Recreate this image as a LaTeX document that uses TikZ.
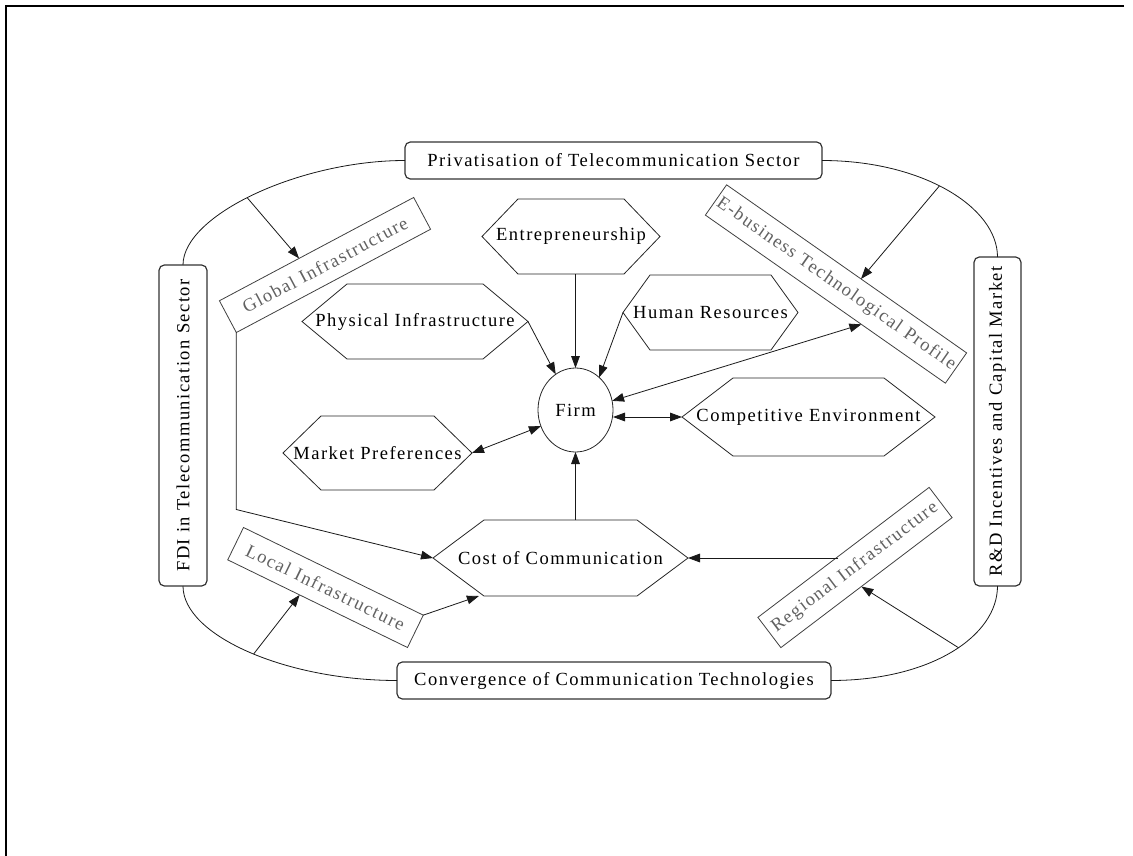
\documentclass[tikz,border=0pt]{standalone}
\usepackage{fontspec}
\setmainfont{Liberation Serif}[LetterSpace=8,Ligatures=NoCommon]
\usetikzlibrary{arrows.meta,calc,shapes.geometric}
\newcommand\hexdraw[2]{\draw[hexline] (#1.west) -- ([shift={(#2,0)}]#1.north west) -- ([shift={(-#2,0)}]#1.north east) -- (#1.east) -- ([shift={(-#2,0)}]#1.south east) -- ([shift={(#2,0)}]#1.south west) -- cycle;}
\begin{document}
\begin{tikzpicture}[x=0.75pt,y=-0.75pt,
  font=\fontsize{13.9}{16}\selectfont,
  every node/.style={inner sep=0pt, outer sep=0pt},
  rbox/.style={draw=black!80, line width=0.9pt, rounded corners=4pt},
  tbox/.style={draw=black!75, line width=0.6pt, text=black!62},
  hexnode/.style={},
  hexline/.style={draw=black!85, line width=0.6pt},
  conn/.style={draw=black!90, line width=0.6pt},
  arr/.style={conn, -{Triangle[length=9pt,width=6.5pt]}},
  darr/.style={conn, {Triangle[length=9pt,width=6.5pt]}-{Triangle[length=9pt,width=6.5pt]}}]
\useasboundingbox (0,0) rectangle (1133,856);
\draw[line width=1.5pt] (1124,6) -- (6,6) -- (6,856);

% outer boxes
\node[rbox, minimum width=312.75pt, minimum height=27.75pt] (priv) at (613.5,160.5) {Privatisation of Telecommunication Sector};
\node[rbox, minimum width=325.5pt, minimum height=27.75pt] (conv) at (614,680.5) {Convergence of Communication Technologies};
\node[rbox, minimum width=36pt, minimum height=240.75pt] (fdi) at (183,425.5) {\rotatebox{90}{FDI in Telecommunication Sector}};
\node[rbox, minimum width=35.25pt, minimum height=246.75pt] (rd) at (997.5,421.5) {\rotatebox{90}{R\&D Incentives and Capital Market}};

% rotated boxes
\node[tbox, rotate=28, minimum width=165pt, minimum height=27pt] (glob) at (325,265) {Global Infrastructure};
\node[tbox, rotate=-35, minimum width=219.75pt, minimum height=27.75pt] (ebiz) at (836,284) {E-business Technological Profile};
\node[tbox, rotate=-26, minimum width=150pt, minimum height=27pt] (local) at (325.5,587.5) {Local Infrastructure};
\node[tbox, rotate=37.2, minimum width=161.25pt, minimum height=28.5pt] (reg) at (855,567.5) {Regional Infrastructure};

% hexagons
\node[minimum width=133.5pt, minimum height=56.25pt] (entre) at (571,236.5) {Entrepreneurship};
\node[minimum width=169.5pt, minimum height=56.25pt] (phys) at (415,321.5) {Physical Infrastructure};
\node[minimum width=131.25pt, minimum height=56.25pt] (human) at (710.5,312.5) {Human Resources};
\node[minimum width=189.75pt, minimum height=58.5pt] (comp) at (808.5,417) {Competitive Environment};
\node[minimum width=141.75pt, minimum height=55.5pt] (market) at (377.5,453) {Market Preferences};
\node[minimum width=191.25pt, minimum height=57pt] (cost) at (560.5,558) {Cost of Communication};
\hexdraw{entre}{36}
\hexdraw{phys}{45}
\hexdraw{human}{27}
\hexdraw{comp}{51}
\hexdraw{market}{38}
\hexdraw{cost}{51}

\node[ellipse, hexline, minimum width=56.25pt, minimum height=63pt] (firm) at (575.5,410) {Firm};

% curves
\draw[conn] (priv.west) .. controls +(-105,0) and +(0,-50) .. (fdi.north) coordinate[pos=0.53] (pl);
\draw[conn] (priv.east) .. controls +(100,0) and +(0,-50) .. (rd.north) coordinate[pos=0.46] (pr);
\draw[conn] (fdi.south) .. controls +(0,50) and +(-110,0) .. (conv.west) coordinate[pos=0.52] (cl);
\draw[conn] (rd.south) .. controls +(0,50) and +(100,0) .. (conv.east) coordinate[pos=0.46] (cr);

% arrows from curves
\draw[arr] (pl) -- ($(glob.north west)!0.41!(glob.north east)$);
\draw[arr] (pr) -- ($(ebiz.north west)!0.56!(ebiz.north east)$);
\draw[arr] (cl) -- ($(local.south west)!0.4!(local.south east)$);
\draw[arr] (cr) -- ($(reg.south west)!0.47!(reg.south east)$);

% arrows to firm
\draw[arr] (firm.north |- entre.south) -- (firm.north);
\draw[arr] (phys.east) -- (firm.119);
\draw[arr] (human.west) -- (firm.54);
\draw[darr] (firm.14) -- ($(ebiz.south west)!0.65!(ebiz.south east)$);
\draw[darr] (comp.west -| firm.east) -- (comp.west);
\draw[darr] (market.east) -- (firm.205);
\draw[arr] (firm.south |- cost.north) -- (firm.south);

% arrows to cost
\draw[arr] (glob.south west) -- ++(0,177) -- (cost.west);
\draw[arr] (local.north east) -- ($(cost.south west)!0.18!(cost.south east)$);
\coordinate (rs) at ($(reg.north west)!0.47!(reg.north east)$);
\draw[arr] (cost.east -| rs) -- (cost.east);
\end{tikzpicture}
\end{document}
